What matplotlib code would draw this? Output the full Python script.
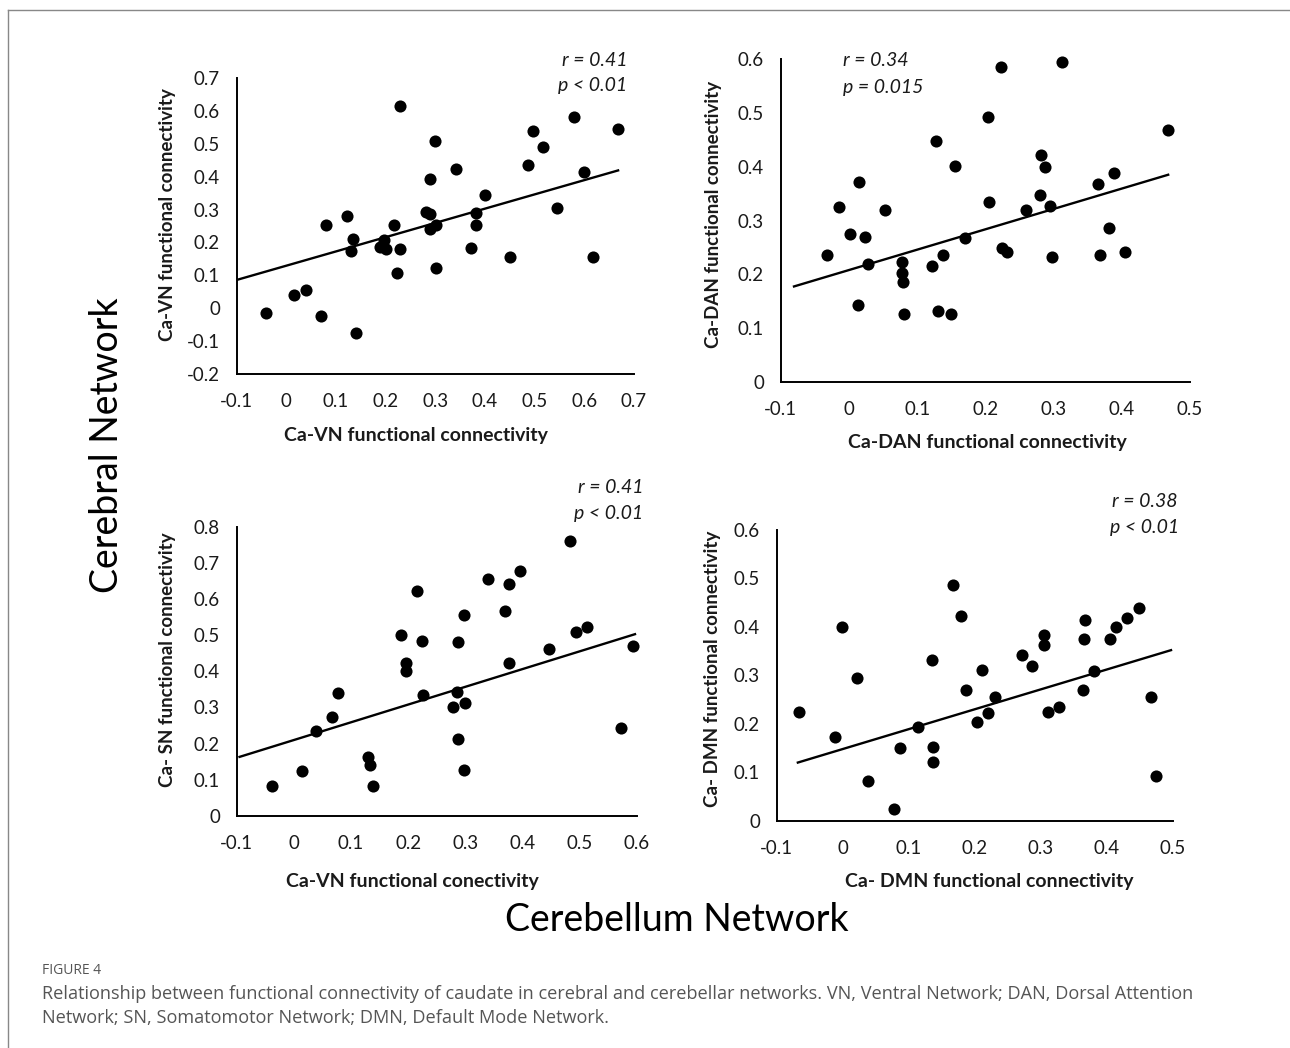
import matplotlib
matplotlib.use("Agg")
import matplotlib.pyplot as plt
from matplotlib.lines import Line2D
import numpy as np

W, H = 1290, 1048

# ---------------- data ----------------
vn_x = [-0.04, 0.015, 0.04, 0.07, 0.08, 0.122, 0.134, 0.131, 0.14, 0.189, 0.197, 0.2,
        0.217, 0.222, 0.229, 0.229, 0.281, 0.29, 0.289, 0.301, 0.29, 0.299, 0.301, 0.342,
        0.372, 0.382, 0.382, 0.4, 0.45, 0.487, 0.497, 0.516, 0.544, 0.579, 0.599, 0.617, 0.668]
vn_y = [-0.015, 0.04, 0.056, -0.023, 0.252, 0.28, 0.21, 0.174, -0.074, 0.187, 0.207, 0.179,
        0.252, 0.106, 0.179, 0.614, 0.293, 0.285, 0.24, 0.253, 0.394, 0.508, 0.122, 0.422,
        0.182, 0.29, 0.252, 0.343, 0.155, 0.434, 0.54, 0.49, 0.306, 0.581, 0.413, 0.155, 0.545]
vn_fit_x = [-0.1, 0.668]
vn_fit_y = [0.086, 0.419]

dan_x = [-0.032, -0.015, 0.001, 0.015, 0.023, 0.028, 0.013, 0.053, 0.078, 0.078, 0.08, 0.081,
         0.122, 0.128, 0.131, 0.138, 0.149, 0.156, 0.17, 0.204, 0.205, 0.223, 0.225, 0.232,
         0.259, 0.28, 0.282, 0.287, 0.295, 0.298, 0.313, 0.365, 0.368, 0.381, 0.389, 0.404, 0.468]
dan_y = [0.236, 0.326, 0.275, 0.371, 0.27, 0.219, 0.143, 0.32, 0.222, 0.202, 0.185, 0.126,
         0.216, 0.447, 0.132, 0.236, 0.126, 0.401, 0.267, 0.492, 0.334, 0.585, 0.249, 0.241,
         0.32, 0.348, 0.422, 0.399, 0.327, 0.233, 0.594, 0.368, 0.236, 0.286, 0.388, 0.241, 0.469]
dan_fit_x = [-0.0805, 0.468]
dan_fit_y = [0.1775, 0.385]

sn_x = [-0.038, 0.014, 0.038, 0.067, 0.078, 0.13, 0.133, 0.139, 0.187, 0.196, 0.196, 0.215,
        0.224, 0.226, 0.278, 0.286, 0.288, 0.288, 0.298, 0.3, 0.297, 0.34, 0.37, 0.377, 0.377,
        0.396, 0.446, 0.483, 0.493, 0.513, 0.573, 0.593]
sn_y = [0.083, 0.125, 0.234, 0.274, 0.341, 0.163, 0.14, 0.083, 0.501, 0.422, 0.4, 0.623,
        0.484, 0.334, 0.3, 0.342, 0.48, 0.213, 0.555, 0.313, 0.128, 0.655, 0.568, 0.643, 0.422,
        0.677, 0.463, 0.76, 0.508, 0.522, 0.242, 0.47]
sn_fit_x = [-0.095, 0.597]
sn_fit_y = [0.163, 0.503]

dmn_x = [-0.066, -0.011, -0.001, 0.022, 0.038, 0.078, 0.086, 0.114, 0.135, 0.137, 0.137, 0.167,
         0.179, 0.187, 0.204, 0.211, 0.22, 0.23, 0.271, 0.286, 0.305, 0.305, 0.311, 0.327,
         0.363, 0.366, 0.367, 0.381, 0.404, 0.413, 0.431, 0.449, 0.466, 0.475]
dmn_y = [0.225, 0.172, 0.4, 0.294, 0.081, 0.025, 0.151, 0.194, 0.331, 0.153, 0.122, 0.487,
         0.422, 0.269, 0.203, 0.312, 0.222, 0.256, 0.341, 0.319, 0.384, 0.362, 0.225, 0.234,
         0.269, 0.375, 0.415, 0.31, 0.374, 0.4, 0.419, 0.438, 0.256, 0.092]
dmn_fit_x = [-0.068, 0.497]
dmn_fit_y = [0.12, 0.352]

xlabels = ["Ca-VN functional connectivity", "Ca-DAN functional connectivity",
           "Ca-VN functional conectivity", "Ca- DMN functional connectivity"]
ylabels = ["Ca-VN functional connectivity", "Ca-DAN functional connectivity",
           "Ca- SN functional connectivity", "Ca- DMN functional connectivity"]
stats_r = ["r = 0.41", "r = 0.34", "r = 0.41", "r = 0.38"]
stats_p = ["p < 0.01", "p = 0.015", "p < 0.01", "p < 0.01"]

xlims = [(-0.1, 0.7), (-0.1, 0.5), (-0.1, 0.6), (-0.1, 0.5)]
ylims = [(-0.2, 0.7), (0.0, 0.6), (0.0, 0.8), (0.0, 0.6)]
xtick_vals = [np.round(np.arange(-0.1, 0.71, 0.1), 1), np.round(np.arange(-0.1, 0.51, 0.1), 1),
              np.round(np.arange(-0.1, 0.61, 0.1), 1), np.round(np.arange(-0.1, 0.51, 0.1), 1)]
ytick_vals = [np.round(np.arange(-0.2, 0.71, 0.1), 1), np.round(np.arange(0, 0.61, 0.1), 1),
              np.round(np.arange(0, 0.81, 0.1), 1), np.round(np.arange(0, 0.61, 0.1), 1)]

# ---------------- layout (pixels) ----------------
axes_px = [(236.7, 634, 78, 374), (780.7, 1190, 59, 382),
           (236.7, 636.7, 527, 815.7), (776.7, 1173, 530, 820.7)]
xlabel_px = [(416, 436), (987, 443), (412, 881), (989, 881)]
ylabel_px = [(167, 215), (713, 214), (167, 660), (712, 669)]
stat_px = [((627, 61), (627, 86), 'right'), ((843, 61), (843, 88), 'left'),
           ((643, 487), (643, 513), 'right'), ((1177, 502), (1179, 528), 'right')]

fig = plt.figure(figsize=(W / 100, H / 100), dpi=100)
fig.patch.set_facecolor('white')

def fx(x):
    return x / W

def fy(y):
    return 1 - y / H

TXT = '#1a1a1a'
datasets = [(vn_x, vn_y, vn_fit_x, vn_fit_y), (dan_x, dan_y, dan_fit_x, dan_fit_y),
            (sn_x, sn_y, sn_fit_x, sn_fit_y), (dmn_x, dmn_y, dmn_fit_x, dmn_fit_y)]

for i, (xs, ys, fxs, fys) in enumerate(datasets):
    l, r, t, b = axes_px[i]
    ax = fig.add_axes([fx(l), fy(b), (r - l) / W, (b - t) / H])
    ax.scatter(xs, ys, s=76, color='black', zorder=3, linewidths=0, clip_on=False)
    ax.plot(fxs, fys, color='black', lw=1.7, zorder=2)
    ax.set_xlim(*xlims[i])
    ax.set_ylim(*ylims[i])
    ax.set_xticks(xtick_vals[i])
    ax.set_yticks(ytick_vals[i])
    ax.set_xticklabels([('0' if v == 0 else f'{v:g}') for v in xtick_vals[i]])
    ax.set_yticklabels([('0' if v == 0 else f'{v:g}') for v in ytick_vals[i]])
    for s in ['top', 'right']:
        ax.spines[s].set_visible(False)
    for s in ['left', 'bottom']:
        ax.spines[s].set_linewidth(1.4)
        ax.spines[s].set_color('black')
    ax.tick_params(axis='both', length=0, labelsize=13.5, labelcolor=TXT)
    ax.tick_params(axis='x', pad=14)
    ax.tick_params(axis='y', pad=12)
    for lab in ax.get_xticklabels() + ax.get_yticklabels():
        lab.set_fontfamily('Lato')
    ax.patch.set_visible(False)

    xl = xlabel_px[i]
    fig.text(fx(xl[0]), fy(xl[1]), xlabels[i], ha='center', va='center',
             fontsize=14, fontweight='bold', family='Lato', color=TXT)
    yl = ylabel_px[i]
    fig.text(fx(yl[0]), fy(yl[1]), ylabels[i], ha='center', va='center', rotation=90,
             fontsize=13.5, fontweight='bold', family='Lato', color=TXT)
    (rx, ry), (px_, py_), ha = stat_px[i]
    fig.text(fx(rx), fy(ry), stats_r[i], ha=ha, va='center', fontsize=14,
             style='italic', family='Lato', color=TXT)
    fig.text(fx(px_), fy(py_), stats_p[i], ha=ha, va='center', fontsize=14,
             style='italic', family='Lato', color=TXT)

# big labels
fig.text(fx(107), fy(445), 'Cerebral Network', rotation=90, ha='center', va='center',
         fontsize=27, family='Lato', color='black')
fig.text(fx(677), fy(920), 'Cerebellum Network', ha='center', va='center',
         fontsize=27, family='Lato', color='black')

# caption
fig.text(fx(42), fy(970), 'FIGURE 4', ha='left', va='center', fontsize=10,
         family='Open Sans', color='#555555')
fig.text(fx(42), fy(994), 'Relationship between functional connectivity of caudate in cerebral and '
         'cerebellar networks. VN, Ventral Network; DAN, Dorsal Attention',
         ha='left', va='center', fontsize=13.1, family='Open Sans', color='#555555')
fig.text(fx(42), fy(1018), 'Network; SN, Somatomotor Network; DMN, Default Mode Network.',
         ha='left', va='center', fontsize=13.1, family='Open Sans', color='#555555')

# frame border
fig.add_artist(Line2D([fx(8), fx(8)], [fy(10), 0], transform=fig.transFigure,
                      color='#888888', lw=1))
fig.add_artist(Line2D([fx(8), 1], [fy(10), fy(10)], transform=fig.transFigure,
                      color='#888888', lw=1))

fig.savefig('out.png', dpi=100, facecolor='white')
